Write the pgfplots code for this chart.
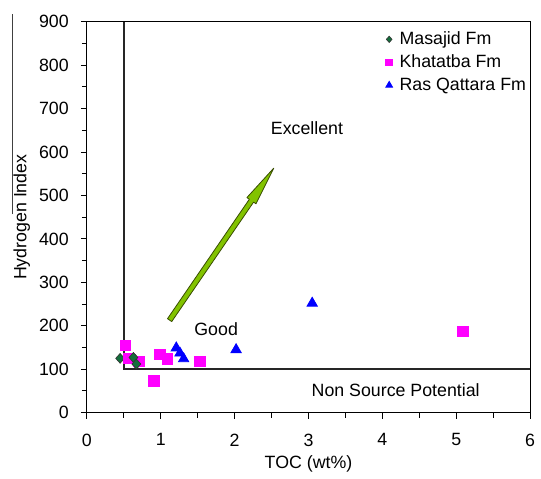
\documentclass[border=0pt]{standalone}
\usepackage{fontspec}
\setmainfont{Liberation Sans}
\usepackage{pgfplots}
\pgfplotsset{compat=1.18}
\usetikzlibrary{calc}
\definecolor{masgreen}{RGB}{20,110,60}
\definecolor{khmag}{RGB}{255,0,255}
\definecolor{rqblue}{RGB}{0,0,255}
\definecolor{arrowfill}{RGB}{130,195,0}
\definecolor{arrowedge}{RGB}{55,75,0}

\begin{document}
\begin{tikzpicture}
\fontsize{9}{11}\selectfont
\begin{axis}[
  scale only axis,
  width=224.5pt,height=198pt,
  xmin=0,xmax=6,ymin=0,ymax=900,
  xtick={0,1,...,6},ytick={0,100,...,900},
  minor x tick num=1,minor y tick num=1,
  xtick pos=bottom,ytick pos=left,
  tick align=outside,
  major tick length=3pt,minor tick length=2.5pt,
  tick style={black,line width=0.5pt},
  axis line style={black,line width=0.5pt},
  /pgf/number format/assume math mode=true,
  tick label style={font=\fontsize{9}{11}\selectfont},
  xticklabel style={yshift=-4.5pt},
  yticklabel style={xshift=-3pt},
  xlabel={TOC (wt\%)},
  ylabel={Hydrogen Index},
  xlabel style={at={(axis description cs:0.5,-0.131)},anchor=center},
  ylabel style={at={(axis description cs:-0.147,0.5)},anchor=center},
  legend style={draw=none,fill=none,at={(0.66,0.996)},anchor=north west,
    font=\fontsize{9}{11}\selectfont,row sep=-0.2pt,
    nodes={inner xsep=3.5pt}},
  legend image post style={every mark/.append style={scale=0.65}},
  legend cell align=left,
  clip=false,
]
% boundary lines
\addplot[black!85,line width=0.8pt,forget plot] coordinates {(0.5,900)(0.5,100)(6,100)};

\addplot[only marks,mark=diamond*,mark size=2.5pt,
  mark options={fill=masgreen,draw=black!80,line width=0.3pt,xscale=1.2}] coordinates {
  (0.45,125)(0.63,127)(0.67,112)};
\addplot[only marks,mark=square*,mark size=2.7pt,
  mark options={fill=khmag,draw=khmag}] coordinates {
  (0.52,155)(0.57,125)(0.70,118)(0.91,73)(0.99,134)
  (1.09,124)(1.53,118)(5.09,187)};
\addplot[only marks,mark=triangle*,mark size=3pt,
  mark options={fill=rqblue,draw=rqblue}] coordinates {
  (1.21,149)(1.26,137)(1.31,124)(2.02,145)(3.05,252)};
\legend{Masajid Fm,Khatatba Fm,Ras Qattara Fm}
% the two diamonds that sit on top of the squares
\addplot[only marks,mark=diamond*,mark size=2.5pt,forget plot,
  mark options={fill=masgreen,draw=black!80,line width=0.3pt,xscale=1.2}] coordinates {
  (0.63,127)(0.67,112)};

\node[yshift=-1pt] at (axis cs:2.98,659) {Excellent};
\node[yshift=-1.5pt] at (axis cs:1.75,198) {Good};
\node[yshift=-1.5pt] at (axis cs:4.18,59) {Non Source Potential};

\coordinate (A) at (axis cs:1.12,213);
\coordinate (B) at (axis cs:2.53,563);
\end{axis}
% arrow
\coordinate (H) at ($(B)!20pt!(A)$);
\filldraw[fill=arrowfill,draw=arrowedge,line width=0.4pt,line join=round]
  ($(A)!1.3pt!90:(B)$) -- ($(H)!1.3pt!-90:(A)$) -- ($(H)!2.8pt!-90:(A)$) -- (B)
  -- ($(H)!2.8pt!90:(A)$) -- ($(H)!1.3pt!90:(A)$) -- ($(A)!1.3pt!-90:(B)$) -- cycle;
% stray rule beside the y label
\draw[black!75,line width=0.5pt] (-37.5pt,100.5pt) -- (-37.5pt,202pt);
% top and right frame
\draw[black,line width=0.5pt] (0,198pt) -- (224.5pt,198pt) -- (224.5pt,0);
\path[use as bounding box] (-44pt,-33.5pt) rectangle (226.5pt,209pt);
\end{tikzpicture}
\end{document}
